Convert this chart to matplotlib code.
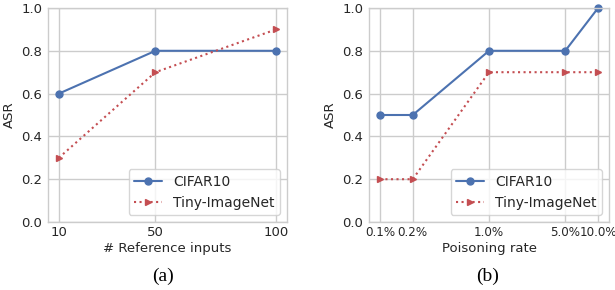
import matplotlib
matplotlib.use("Agg")
import matplotlib.pyplot as plt
import seaborn as sns

sns.set_style("whitegrid")
plt.rcParams['font.family'] = ['DejaVu Sans']

ref_inputs = [10, 50, 100]
cifar_a = [0.6, 0.8, 0.8]
tiny_a = [0.3, 0.7, 0.9]

poison_rates = [0.1, 0.2, 1.0, 5.0, 10.0]
poison_labels = ["0.1%", "0.2%", "1.0%", "5.0%", "10.0%"]
cifar_b = [0.5, 0.5, 0.8, 0.8, 1.0]
tiny_b = [0.2, 0.2, 0.7, 0.7, 0.7]

blue = "#4C72B0"
red = "#C44E52"
tc = "#262626"

fig = plt.figure(figsize=(6.15, 2.9), dpi=100)
ax1 = fig.add_axes([48/615, 68/290, 239/615, 214/290])
ax2 = fig.add_axes([369/615, 68/290, 240/615, 214/290])

def style(ax, xtick_size):
    ax.set_ylim(0, 1.0)
    ax.set_yticks([0.0, 0.2, 0.4, 0.6, 0.8, 1.0])
    ax.set_yticklabels(["0.0", "0.2", "0.4", "0.6", "0.8", "1.0"])
    ax.tick_params(axis='y', labelsize=9.5, colors=tc, length=0, pad=4)
    ax.tick_params(axis='x', labelsize=xtick_size, colors=tc, length=0, pad=3)
    for s in ax.spines.values():
        s.set_color("#cccccc")
        s.set_linewidth(1.0)
    ax.grid(True, color="#cccccc", linewidth=1.0)
    ax.set_ylabel("ASR", fontsize=9.5, color=tc, labelpad=4)
    leg = ax.legend(loc="lower right", fontsize=10, frameon=True,
                    borderpad=0.4, handlelength=2.0)
    for t in leg.get_texts():
        t.set_color(tc)
    leg.get_frame().set_edgecolor("#cccccc")

ax1.plot(ref_inputs, cifar_a, '-o', color=blue, lw=1.5, ms=5, label="CIFAR10", clip_on=False)
ax1.plot(ref_inputs, tiny_a, ':>', color=red, lw=1.5, ms=5, label="Tiny-ImageNet", clip_on=False)
ax1.set_xticks(ref_inputs)
ax1.set_xticklabels([str(v) for v in ref_inputs])
ax1.set_xlabel("# Reference inputs", fontsize=9.5, color=tc, labelpad=2)
style(ax1, 9.5)

ax2.plot(poison_rates, cifar_b, '-o', color=blue, lw=1.5, ms=5, label="CIFAR10", clip_on=False)
ax2.plot(poison_rates, tiny_b, ':>', color=red, lw=1.5, ms=5, label="Tiny-ImageNet", clip_on=False)
ax2.set_xscale("log")
ax2.set_xticks(poison_rates)
ax2.set_xticklabels(poison_labels)
ax2.minorticks_off()
ax2.set_xlabel("Poisoning rate", fontsize=9.5, color=tc, labelpad=2)
style(ax2, 8.6)

fig.text(163/615, 1 - 276/290, "(a)", ha="center", va="center",
         fontsize=14, family="Liberation Serif", color="black")
fig.text(488/615, 1 - 276/290, "(b)", ha="center", va="center",
         fontsize=14, family="Liberation Serif", color="black")

fig.savefig("out.png", dpi=100)
